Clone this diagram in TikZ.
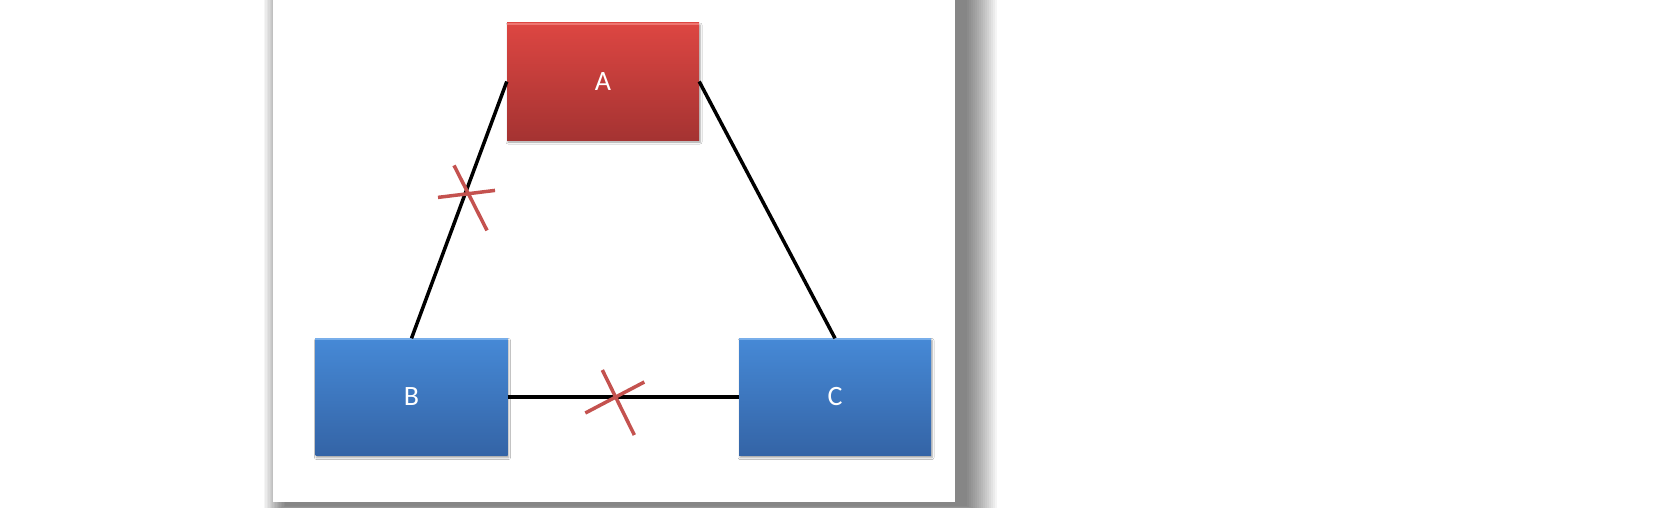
\documentclass[tikz,border=0pt]{standalone}
\usepackage{fontspec}
\setmainfont{Carlito}
\usetikzlibrary{calc, shadows.blur}
\definecolor{clrRedTop}{HTML}{DD4642}
\definecolor{clrRedBot}{HTML}{A53332}
\definecolor{clrRedLit}{HTML}{EE7570}
\definecolor{clrBluTop}{HTML}{4689D6}
\definecolor{clrBluBot}{HTML}{3464A6}
\definecolor{clrBluLit}{HTML}{78AEEA}
\definecolor{clrCut}{HTML}{C4524F}

\begin{document}
\begin{tikzpicture}[
  x=1pt, y=-1pt,
  box/.style = {
    rectangle, minimum width=192pt, minimum height=117pt,
    inner sep=0pt, text=white, font=\fontsize{28}{32}\selectfont,
    blur shadow={shadow xshift=1pt, shadow yshift=-2pt,
      shadow blur radius=2pt, shadow opacity=40}
  },
  redbox/.style = {box, top color=clrRedTop, bottom color=clrRedBot},
  blubox/.style = {box, top color=clrBluTop, bottom color=clrBluBot},
  link/.style = {line width=3.5pt, black},
  cut/.style  = {line width=3.5pt, clrCut}
]
  \useasboundingbox (0,0) rectangle (1653,508);
  % panel with soft shadow
  \foreach \r in {0,2,...,30}
    \fill[black, opacity=0.04] (285-0.7*\r,-10) rectangle (967+\r,506+\r/4);
  \fill[white] (273,0) rectangle (955,502);

  \node[redbox] (A) at (603,81.5) {A};
  \node[blubox] (B) at (411.5,397) {B};
  \node[blubox] (C) at (835,397)  {C};

  % bevel highlights
  \draw[clrRedLit, line width=2pt] ([yshift=-1pt]A.north west) -- ([yshift=-1pt]A.north east);
  \draw[clrBluLit, line width=2pt] ([yshift=-1pt]B.north west) -- ([yshift=-1pt]B.north east);
  \draw[clrBluLit, line width=2pt] ([yshift=-1pt]C.north west) -- ([yshift=-1pt]C.north east);

  \draw[link] (A.west) -- (B.north);
  \draw[link] (A.east) -- (C.north);
  \draw[link] (B.east) -- (C.west);

  % crossed-out links
  \coordinate (cutAB) at ($(A.west)!0.428!(B.north)$);
  \coordinate (cutBC) at ($(B.east)!0.47!(C.west)$);
  \draw[cut] ($(cutAB)+(-28,6)$)   -- ($(cutAB)+(29,-1)$);
  \draw[cut] ($(cutAB)+(-12,-26)$) -- ($(cutAB)+(21,39)$);
  \draw[cut] ($(cutBC)+(-31,16)$)  -- ($(cutBC)+(28,-15)$);
  \draw[cut] ($(cutBC)+(-14,-27)$) -- ($(cutBC)+(18,38)$);
\end{tikzpicture}
\end{document}
